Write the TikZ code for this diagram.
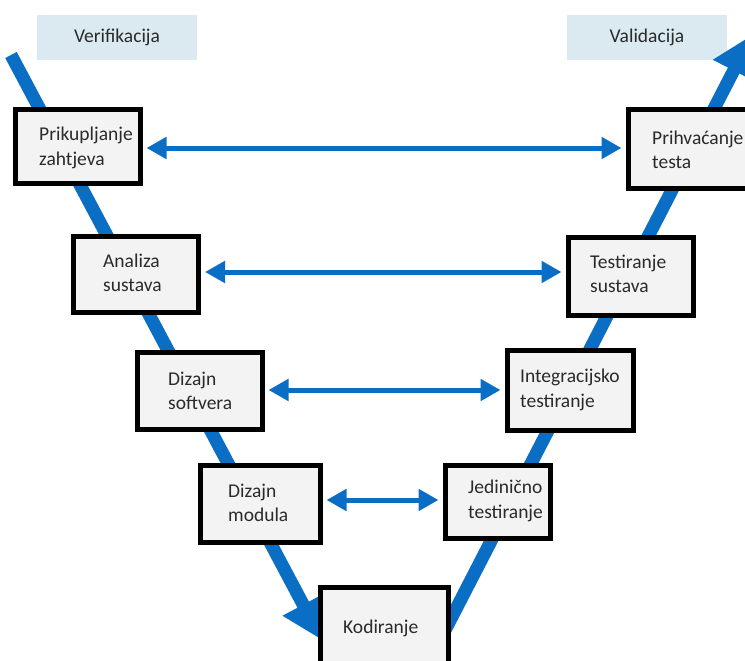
\documentclass[tikz,border=0pt]{standalone}
\usepackage{fontspec}
\setmainfont{Carlito}
\usetikzlibrary{arrows.meta}
\definecolor{vblue}{HTML}{0A6EC4}
\definecolor{lblue}{HTML}{DAEAF0}
\definecolor{boxgray}{HTML}{F3F3F3}
\definecolor{txt}{HTML}{2A2A2A}
\tikzset{
  stagebox/.style={draw=black, line width=5pt, fill=boxgray, inner sep=0pt},
  stagetext/.style={anchor=west, align=left, inner sep=0pt, text=txt,
    font=\fontsize{19.5}{24.5}\selectfont},
  headbox/.style={fill=lblue, inner sep=0pt, text=txt,
    font=\fontsize{19.5}{24}\selectfont},
  varm/.style={vblue, line width=13pt, -{Triangle[width=44pt,length=40pt]}},
  pairarrow/.style={vblue, line width=5pt, {Triangle[width=21pt,length=20pt]}-{Triangle[width=21pt,length=20pt]}}
}
\begin{document}
\begin{tikzpicture}[x=1pt,y=-1pt]
\useasboundingbox (0,0) rectangle (745,661);
% headers
\node[headbox, minimum width=160pt, minimum height=45pt] (hv) at (117,37.5) {Verifikacija};
\node[headbox, minimum width=160pt, minimum height=45pt] (hval) at (647,37.5) {Validacija};
% V arms
\coordinate (ls) at (11,55);
\coordinate (le) at (322,640);
\coordinate (rs) at (440,640);
\coordinate (re) at (752,35);
\draw[varm] (ls) -- (le);
\draw[varm] (rs) -- (re);
% boxes
\node[stagebox, minimum width=125pt, minimum height=73pt] (b1) at (77.5,146.5) {};
\node[stagebox, minimum width=125pt, minimum height=76pt] (b2) at (136,274.5) {};
\node[stagebox, minimum width=125pt, minimum height=77pt] (b3) at (199.5,390.5) {};
\node[stagebox, minimum width=120pt, minimum height=77pt] (b4) at (260,503.5) {};
\node[stagebox, minimum width=128pt, minimum height=80pt] (b5) at (384,627) {};
\node[stagebox, minimum width=120pt, minimum height=78pt] (c1) at (688,149) {};
\node[stagebox, minimum width=125pt, minimum height=78pt] (c2) at (630.5,276) {};
\node[stagebox, minimum width=126pt, minimum height=80pt] (c3) at (570,390) {};
\node[stagebox, minimum width=105pt, minimum height=73pt] (c4) at (497.5,501.5) {};
% texts
\node[stagetext] (t1) at (39,148) {Prikupljanje\\zahtjeva};
\node[stagetext] (t2) at (103,273) {Analiza\\sustava};
\node[stagetext] (t3) at (168,391) {Dizajn\\softvera};
\node[stagetext] (t4) at (228,503) {Dizajn\\modula};
\node[stagetext] (t5) at (343,628) {Kodiranje};
\node[stagetext] (u1) at (652,150) {Prihvaćanje\\testa};
\node[stagetext] (u2) at (590,274) {Testiranje\\sustava};
\node[stagetext] (u3) at (520,390) {Integracijsko\\testiranje};
\node[stagetext] (u4) at (468,501) {Jedinično\\testiranje};
% horizontal double arrows
\draw[pairarrow] ([xshift=4pt]b1.east |- 0,148) -- ([xshift=-4pt]c1.west |- 0,148);
\draw[pairarrow] ([xshift=4pt]b2.east |- 0,272) -- ([xshift=-4pt]c2.west |- 0,272);
\draw[pairarrow] ([xshift=4pt]b3.east |- 0,390) -- ([xshift=-4pt]c3.west |- 0,390);
\draw[pairarrow] ([xshift=4pt]b4.east |- 0,500) -- ([xshift=-4pt]c4.west |- 0,500);
\end{tikzpicture}
\end{document}
